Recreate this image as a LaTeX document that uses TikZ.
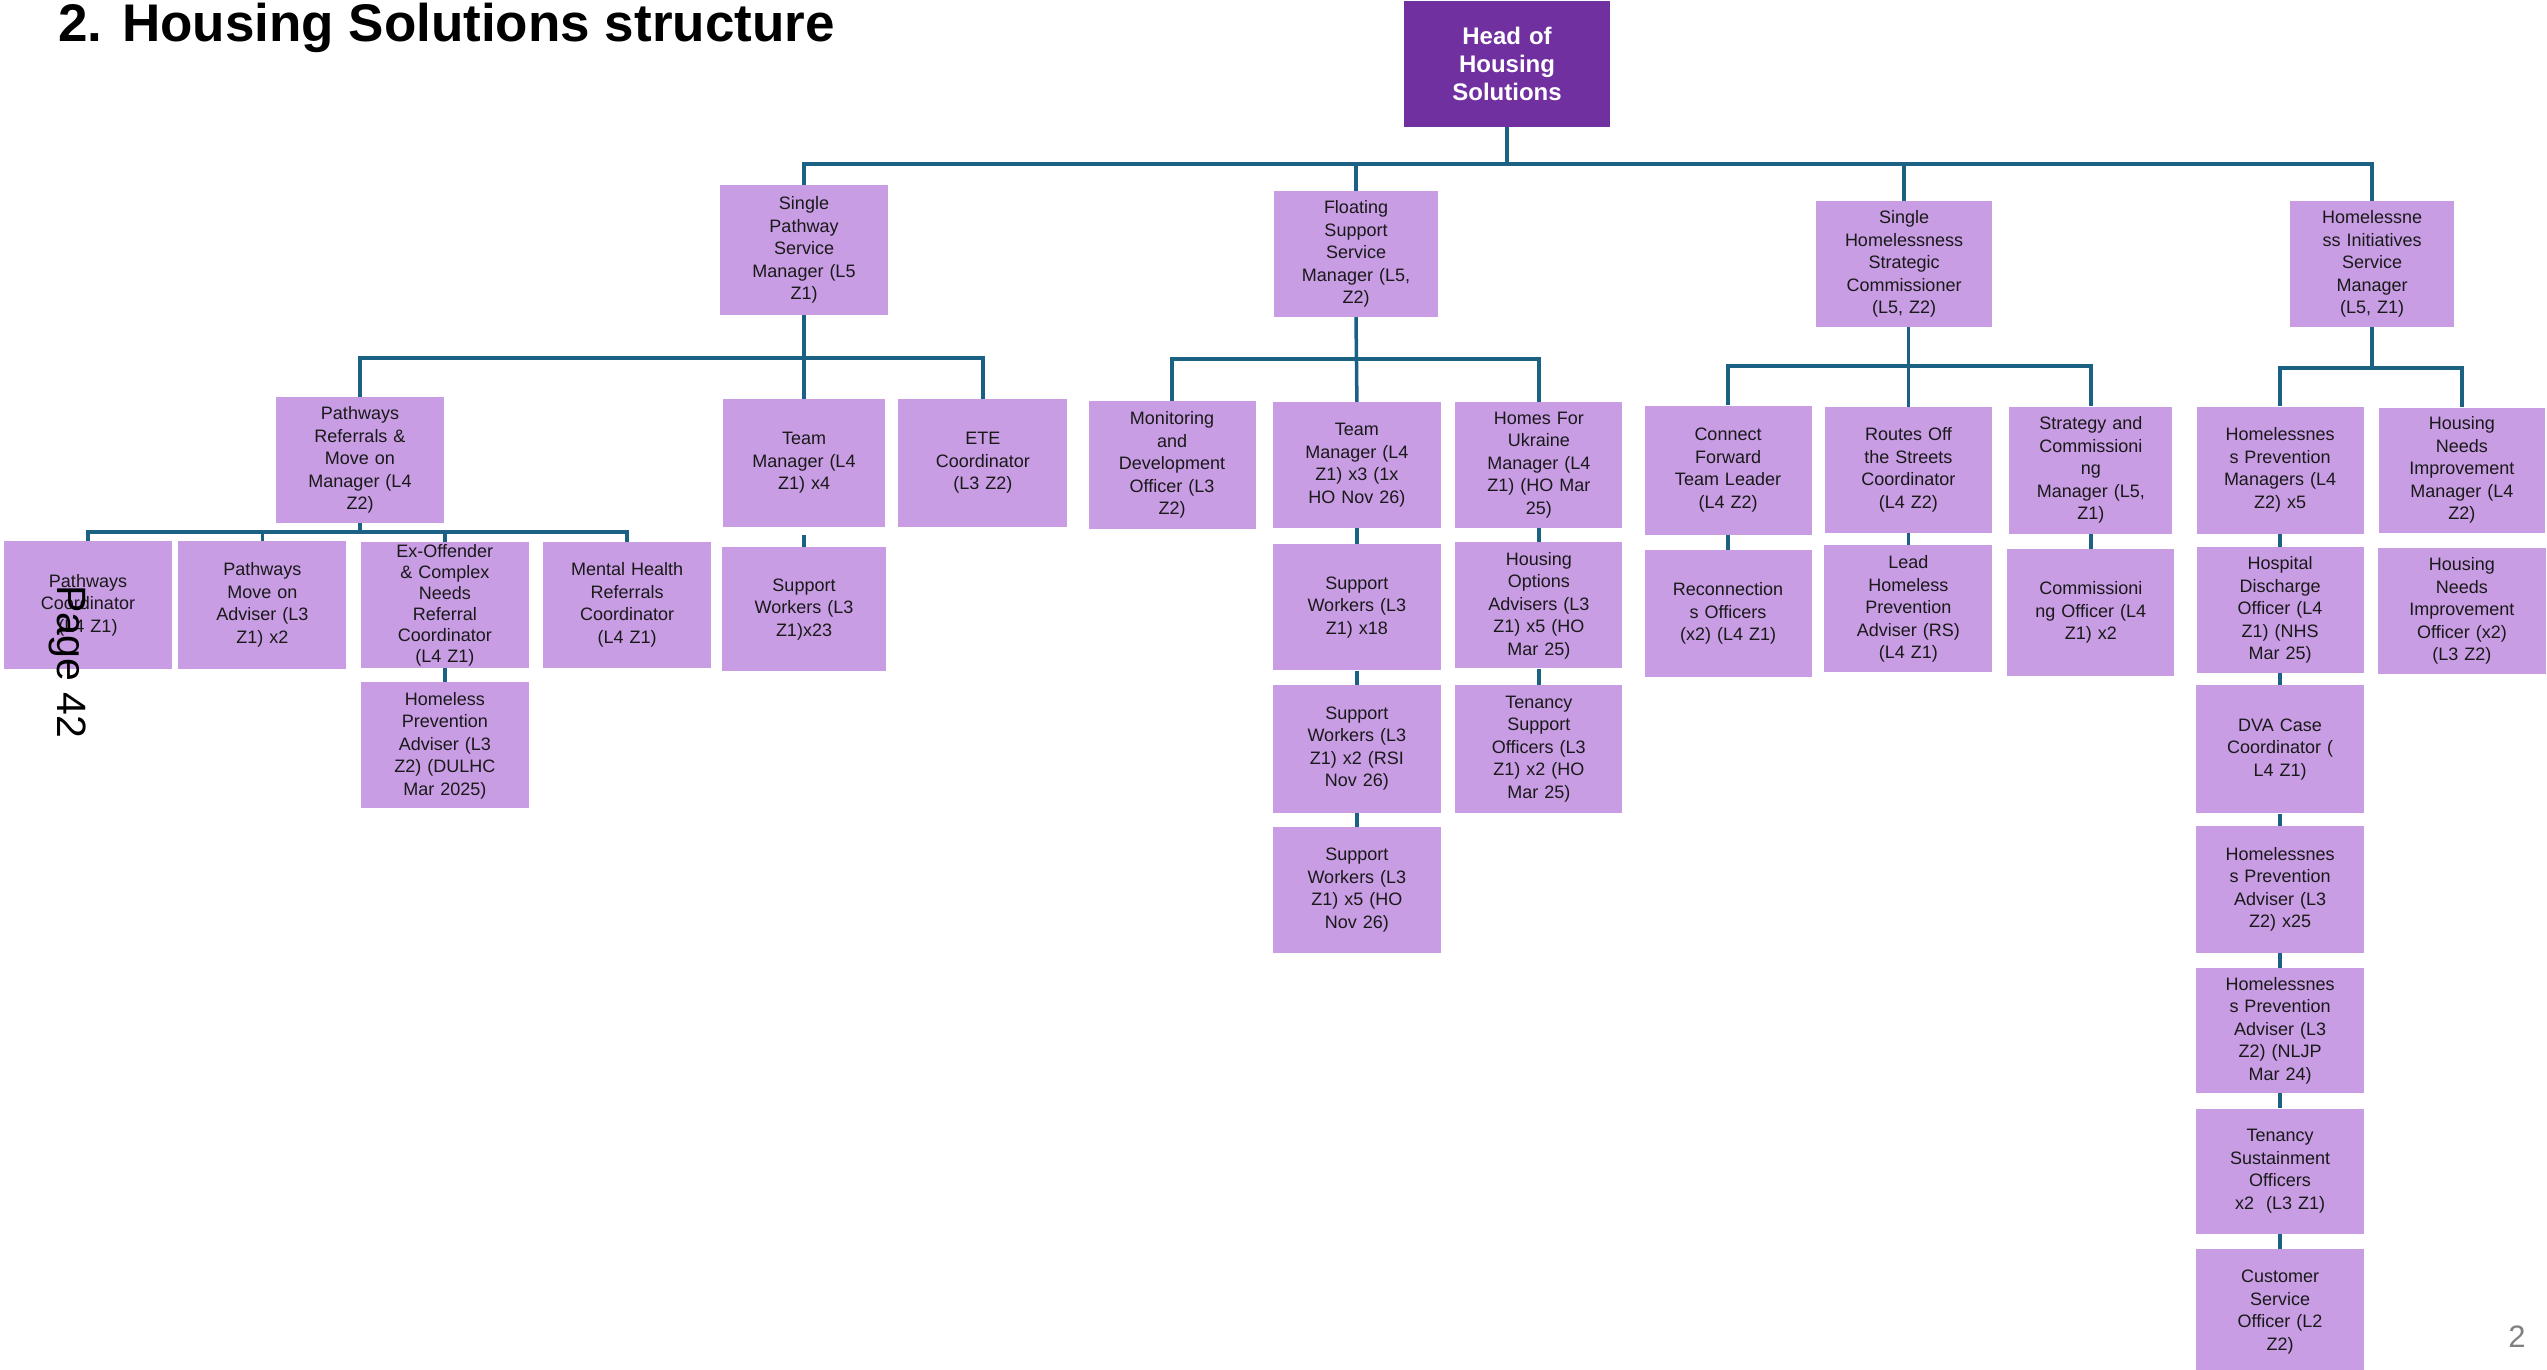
\documentclass[tikz,border=0pt]{standalone}
\usepackage{fontspec}
\setmainfont{Liberation Sans}
\usetikzlibrary{positioning}
\definecolor{hspurple}{RGB}{112,48,160}
\definecolor{hsmauve}{RGB}{200,157,228}
\definecolor{hsteal}{RGB}{26,97,131}

\begin{document}
\begin{tikzpicture}[
            x=1pt, y=-1pt,
            post/.style={rectangle, fill=hsmauve, align=center, inner sep=0pt, minimum width=168pt, minimum height=127pt, text width=150pt, text=black!90, font=\fontsize{18}{22.5}\selectfont},
            headbox/.style={post, fill=hspurple, text=white, minimum width=206pt, minimum height=126pt, text width=190pt, font=\fontsize{24}{28}\selectfont\bfseries},
            link/.style={draw=hsteal, line width=3.5pt}
        ]
            \useasboundingbox (0,0) rectangle (2547,1369);
            \node[anchor=base west, inner sep=0pt, font=\fontsize{53}{60}\selectfont\bfseries] (title) at (58,41) {2. Housing Solutions structure};
            \node[headbox] (head) at (1507,64) {Head of\\Housing\\Solutions};
            % managers
            \node[post, minimum height=130pt] (sp) at (804,250) {Single\\Pathway\\Service\\Manager (L5\\Z1)};
            \node[post, minimum width=164pt, minimum height=126pt] (fs) at (1356,254) {Floating\\Support\\Service\\Manager (L5,\\Z2)};
            \node[post, minimum width=176pt, minimum height=126pt] (shsc) at (1904,264) {Single\\Homelessness\\Strategic\\Commissioner\\(L5, Z2)};
            \node[post, minimum width=164pt, minimum height=126pt] (hism) at (2372,264) {Homelessne\\ss Initiatives\\Service\\Manager\\(L5, Z1)};
            % single pathway
            \node[post, minimum height=126pt] (prm) at (360,460) {Pathways\\Referrals \&\\Move on\\Manager (L4\\Z2)};
            \node[post, minimum width=162pt, minimum height=128pt] (tmfour) at (804,463) {Team\\Manager (L4\\Z1) x4};
            \node[post, minimum width=169pt, minimum height=128pt, right=13pt of tmfour] (ete) {ETE\\Coordinator\\(L3 Z2)};
            \node[post, minimum width=164pt, minimum height=124pt, below=20pt of tmfour] (swtt) {Support\\Workers (L3\\Z1)x23};
            \node[post, minimum height=128pt] (pc) at (88,605) {Pathways\\Coordinator\\(L4 Z1)};
            \node[post, minimum height=128pt, right=6pt of pc] (pma) {Pathways\\Move on\\Adviser (L3\\Z1) x2};
            \node[post, minimum height=126pt, right=14pt of pma, font=\fontsize{18}{21}\selectfont] (eo) {Ex-Offender\\\& Complex\\Needs\\Referral\\Coordinator\\(L4 Z1)};
            \node[post, minimum height=126pt, right=14pt of eo] (mh) {Mental Health\\Referrals\\Coordinator\\(L4 Z1)};
            \node[post, minimum height=126pt, below=14pt of eo] (hpa) {Homeless\\Prevention\\Adviser (L3\\Z2) (DULHC\\Mar 2025)};
            % floating support
            \node[post, minimum width=167pt, minimum height=128pt] (mdo) at (1172,465) {Monitoring\\and\\Development\\Officer (L3\\Z2)};
            \node[post, minimum height=126pt, right=17pt of mdo] (tmthree) {Team\\Manager (L4\\Z1) x3 (1x\\HO Nov 26)};
            \node[post, minimum width=167pt, minimum height=126pt, right=14pt of tmthree] (hfu) {Homes For\\Ukraine\\Manager (L4\\Z1) (HO Mar\\25)};
            \node[post, minimum height=126pt, below=16pt of tmthree] (sweighteen) {Support\\Workers (L3\\Z1) x18};
            \node[post, minimum height=128pt, below=14pt of sweighteen] (swrsi) {Support\\Workers (L3\\Z1) x2 (RSI\\Nov 26)};
            \node[post, minimum height=126pt, below=14pt of swrsi] (swho) {Support\\Workers (L3\\Z1) x5 (HO\\Nov 26)};
            \node[post, minimum width=167pt, minimum height=126pt, below=14pt of hfu] (hoa) {Housing\\Options\\Advisers (L3\\Z1) x5 (HO\\Mar 25)};
            \node[post, minimum width=167pt, minimum height=128pt, below=16pt of hoa] (tso) {Tenancy\\Support\\Officers (L3\\Z1) x2 (HO\\Mar 25)};
            % single homelessness
            \node[post, minimum width=167pt, minimum height=129pt] (cftl) at (1728,470) {Connect\\Forward\\Team Leader\\(L4 Z2)};
            \node[post, minimum width=167pt, minimum height=126pt, right=13pt of cftl] (ros) {Routes Off\\the Streets\\Coordinator\\(L4 Z2)};
            \node[post, minimum width=163pt, right=17pt of ros] (scm) {Strategy and\\Commissioni\\ng\\Manager (L5,\\Z1)};
            \node[post, minimum width=167pt, below=15pt of cftl] (recon) {Reconnection\\s Officers\\(x2) (L4 Z1)};
            \node[post, below=12pt of ros] (lhpa) {Lead\\Homeless\\Prevention\\Adviser (RS)\\(L4 Z1)};
            \node[post, minimum width=167pt, below=15pt of scm] (co) {Commissioni\\ng Officer (L4\\Z1) x2};
            % initiatives
            \node[post, minimum width=167pt] (hpm) at (2280,470) {Homelessnes\\s Prevention\\Managers (L4\\Z2) x5};
            \node[post, minimum width=166pt, minimum height=125pt, right=15pt of hpm] (hnim) {Housing\\Needs\\Improvement\\Manager (L4\\Z2)};
            \node[post, minimum width=167pt, minimum height=126pt, below=13pt of hpm] (hdo) {Hospital\\Discharge\\Officer (L4\\Z1) (NHS\\Mar 25)};
            \node[post, minimum height=126pt, below=15pt of hnim] (hnio) {Housing\\Needs\\Improvement\\Officer (x2)\\(L3 Z2)};
            \node[post, minimum height=128pt, below=12pt of hdo] (dva) {DVA Case\\Coordinator (\\L4 Z1)};
            \node[post, below=12pt of dva] (hpatf) {Homelessnes\\s Prevention\\Adviser (L3\\Z2) x25};
            \node[post, minimum height=125pt, below=15pt of hpatf] (nljp) {Homelessnes\\s Prevention\\Adviser (L3\\Z2) (NLJP\\Mar 24)};
            \node[post, minimum height=125pt, below=15pt of nljp] (tsotwo) {Tenancy\\Sustainment\\Officers\\x2 \ (L3 Z1)};
            \node[post, minimum height=126pt, below=15pt of tsotwo] (cso) {Customer\\Service\\Officer (L2\\Z2)};
            % page marks
            \node[rotate=-90, inner sep=0pt, font=\fontsize{41}{48}\selectfont] (pagemark) at (68,662) {Page 42};
            \node[inner sep=0pt, text=black!50, font=\fontsize{31}{36}\selectfont] (pagenum) at (2517,1337) {2};
            % connectors
            \coordinate (topbus) at (0,164);
            \coordinate (spbus) at (0,358);
            \coordinate (prmbus) at (0,532);
            \coordinate (fsbus) at (0,359);
            \coordinate (shscbus) at (0,366);
            \coordinate (hismbus) at (0,368);
            \draw[link] (head.south) -- (head.south |- topbus);
            \draw[link] (sp.north) |- (hism.north |- topbus) -- (hism.north);
            \draw[link] (fs.north) -- (fs.north |- topbus);
            \draw[link] (shsc.north) -- (shsc.north |- topbus);
            \draw[link] (sp.south) -- (tmfour.north);
            \draw[link] (prm.north) |- (ete.north |- spbus) -- (ete.north);
            \draw[link] ([yshift=-8pt]tmfour.south) -- (swtt.north);
            \draw[link] (prm.south) -- (prm.south |- prmbus);
            \draw[link] (pc.north) |- (mh.north |- prmbus) -- (mh.north);
            \draw[link] (pma.north) -- (pma.north |- prmbus);
            \draw[link] (eo.north) -- (eo.north |- prmbus);
            \draw[link] (eo.south) -- (hpa.north);
            \draw[link] (fs.south) -- (tmthree.north);
            \draw[link] (mdo.north) |- (hfu.north |- fsbus) -- (hfu.north);
            \draw[link] (tmthree.south) -- (sweighteen.north);
            \draw[link] (sweighteen.south) -- (swrsi.north);
            \draw[link] (swrsi.south) -- (swho.north);
            \draw[link] (hfu.south) -- (hoa.north);
            \draw[link] (hoa.south) -- (tso.north);
            \draw[link] (ros.north |- shsc.south) -- (ros.north);
            \draw[link] (cftl.north) |- (scm.north |- shscbus) -- (scm.north);
            \draw[link] (cftl.south) -- (recon.north);
            \draw[link] (lhpa.north |- ros.south) -- (lhpa.north);
            \draw[link] (scm.south) -- (co.north);
            \draw[link] (hism.south) -- (hism.south |- hismbus);
            \draw[link] (hpm.north) |- (hnim.north |- hismbus) -- (hnim.north);
            \draw[link] (hpm.south) -- (hdo.north);
            \draw[link] (hdo.south) -- (dva.north);
            \draw[link] (dva.south) -- (hpatf.north);
            \draw[link] (hpatf.south) -- (nljp.north);
            \draw[link] (nljp.south) -- (tsotwo.north);
            \draw[link] (tsotwo.south) -- (cso.north);
        \end{tikzpicture}
\end{document}
